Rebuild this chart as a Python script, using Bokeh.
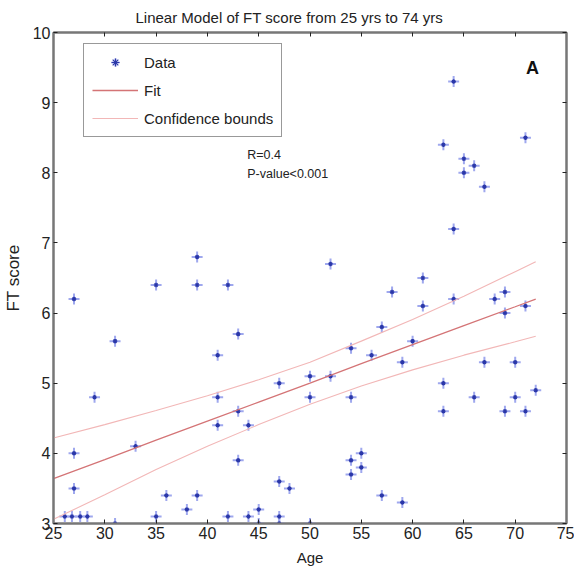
from bokeh.plotting import figure
from bokeh.models import (Range1d, FixedTicker, LinearAxis, Legend, LegendItem, Label, ColumnDataSource)
from bokeh.embed import file_html
from bokeh.resources import INLINE

# ---- data ----
age = [39, 35, 39, 42, 27, 31, 43, 41, 29, 41, 43, 41, 44, 47, 50, 50, 33, 27, 27, 43,
       36, 39, 38, 47, 48, 45, 26.1, 26.8, 27.6, 28.3, 31, 35, 42, 44, 45, 47, 47, 50,
       61, 58, 61, 64, 68, 69, 69, 71, 57, 54, 56, 60, 59, 52, 54, 67, 70, 63, 72, 66,
       70, 63, 69, 71, 55, 54, 55, 54, 57, 59,
       64, 71, 63, 65, 66, 65, 67, 64, 52]
ft_score = [6.8, 6.4, 6.4, 6.4, 6.2, 5.6, 5.7, 5.4, 4.8, 4.8, 4.6, 4.4, 4.4, 5.0, 5.1, 4.8, 4.1, 4.0, 3.5, 3.9,
            3.4, 3.4, 3.2, 3.6, 3.5, 3.2, 3.1, 3.1, 3.1, 3.1, 3.0, 3.1, 3.1, 3.1, 3.0, 3.1, 3.0, 3.0,
            6.5, 6.3, 6.1, 6.2, 6.2, 6.3, 6.0, 6.1, 5.8, 5.5, 5.4, 5.6, 5.3, 5.1, 4.8, 5.3, 5.3, 5.0, 4.9, 4.8,
            4.8, 4.6, 4.6, 4.6, 4.0, 3.9, 3.8, 3.7, 3.4, 3.3,
            9.3, 8.5, 8.4, 8.2, 8.1, 8.0, 7.8, 7.2, 6.7]

curve_age = [25, 30, 35, 40, 45, 50, 55, 60, 65, 70, 72]
fit_score = [3.64, 3.91, 4.19, 4.46, 4.73, 5.00, 5.28, 5.55, 5.82, 6.09, 6.20]
upper_bound = [4.22, 4.41, 4.61, 4.82, 5.05, 5.30, 5.60, 5.91, 6.24, 6.59, 6.73]
lower_bound = [3.06, 3.41, 3.77, 4.10, 4.41, 4.70, 4.96, 5.19, 5.40, 5.59, 5.67]

x_ticks = [25, 30, 35, 40, 45, 50, 55, 60, 65, 70, 75]
y_ticks = [3, 4, 5, 6, 7, 8, 9, 10]

FONT = "Liberation Sans"

p = figure(frame_width=513, frame_height=491, output_backend="svg", toolbar_location=None,
           x_range=Range1d(25, 75), y_range=Range1d(3, 10),
           min_border_left=50, min_border_right=8, min_border_top=32, min_border_bottom=52,
           title="Linear Model of FT score from 25 yrs to 74 yrs")
p.title.align = "left"
p.title.offset = 82
p.title.vertical_align = "top"
p.title.standoff = 10
p.title.text_font = FONT
p.title.text_font_size = "15px"
p.title.text_font_style = "normal"
p.title.text_color = "#222222"

p.grid.visible = False
p.background_fill_color = "white"
p.border_fill_color = "white"
p.outline_line_color = "#777777"
p.outline_line_width = 2

def style_axis(ax, ticks, labels=True):
    ax.ticker = FixedTicker(ticks=ticks)
    ax.axis_line_color = "#777777"
    ax.axis_line_width = 2
    ax.major_tick_in = 4
    ax.major_tick_out = 0
    ax.major_tick_line_color = "#222222"
    ax.major_tick_line_width = 1
    ax.minor_tick_line_color = None
    if labels:
        ax.major_label_text_font = FONT
        ax.major_label_text_font_size = "16px"
        ax.major_label_text_color = "#222222"
    else:
        ax.major_label_overrides = {t: "" for t in ticks}
        ax.major_label_text_color = None
        ax.major_label_standoff = 0

style_axis(p.xaxis[0], x_ticks)
style_axis(p.yaxis[0], y_ticks)
p.xaxis.major_label_standoff = 3
p.yaxis.major_label_standoff = 3
p.xaxis.axis_label = "Age"
p.xaxis.axis_label_text_font = FONT
p.xaxis.axis_label_text_font_size = "15px"
p.xaxis.axis_label_text_font_style = "normal"
p.xaxis.axis_label_text_color = "#222222"
p.xaxis.axis_label_standoff = 7
p.yaxis.axis_label = "FT score"
p.yaxis.axis_label_text_font = FONT
p.yaxis.axis_label_text_font_size = "17px"
p.yaxis.axis_label_text_font_style = "normal"
p.yaxis.axis_label_text_color = "#222222"
p.yaxis.axis_label_standoff = 7

top_ax = LinearAxis()
right_ax = LinearAxis()
style_axis(top_ax, x_ticks, labels=False)
style_axis(right_ax, y_ticks, labels=False)
p.add_layout(top_ax, "above")
p.add_layout(right_ax, "right")

src = ColumnDataSource(dict(age=age, ft=ft_score))
cross_r = p.scatter("age", "ft", source=src, marker="cross", size=11, line_color="#9fa8ee", line_width=2)
dot_r = p.scatter("age", "ft", source=src, marker="asterisk", size=4.5, line_color="#2a37a8", line_width=1.2)

fit_r = p.line(curve_age, fit_score, line_color="#d47476", line_width=1.3)
up_r = p.line(curve_age, upper_bound, line_color="#f2b7b7", line_width=1.1)
p.line(curve_age, lower_bound, line_color="#f2b7b7", line_width=1.1)

legend = Legend(items=[LegendItem(label="Data", renderers=[cross_r, dot_r]),
                       LegendItem(label="Fit", renderers=[fit_r]),
                       LegendItem(label="Confidence bounds", renderers=[up_r])],
                location=(30, 386))
legend.border_line_color = "#333333"
legend.border_line_width = 1
legend.background_fill_alpha = 1
legend.label_text_font = FONT
legend.label_text_font_size = "15px"
legend.label_text_color = "#222222"
legend.glyph_width = 46
legend.glyph_height = 20
legend.label_height = 20
legend.spacing = 8
legend.padding = 8
legend.label_standoff = 6
legend.margin = 0
p.add_layout(legend, "center")

p.add_layout(Label(x=43.88, y=8.25, text="R=0.4", text_font=FONT, text_font_size="12.5px",
                   text_baseline="middle", text_color="#222222"))
p.add_layout(Label(x=43.88, y=7.98, text="P-value<0.001", text_font=FONT, text_font_size="12.5px",
                   text_baseline="middle", text_color="#222222"))
p.add_layout(Label(x=71.69, y=9.50, text="A", text_font=FONT, text_font_size="18px",
                   text_font_style="bold", text_align="center", text_baseline="middle",
                   text_color="#111111"))

open("out.html", "w").write(file_html(p, INLINE))
